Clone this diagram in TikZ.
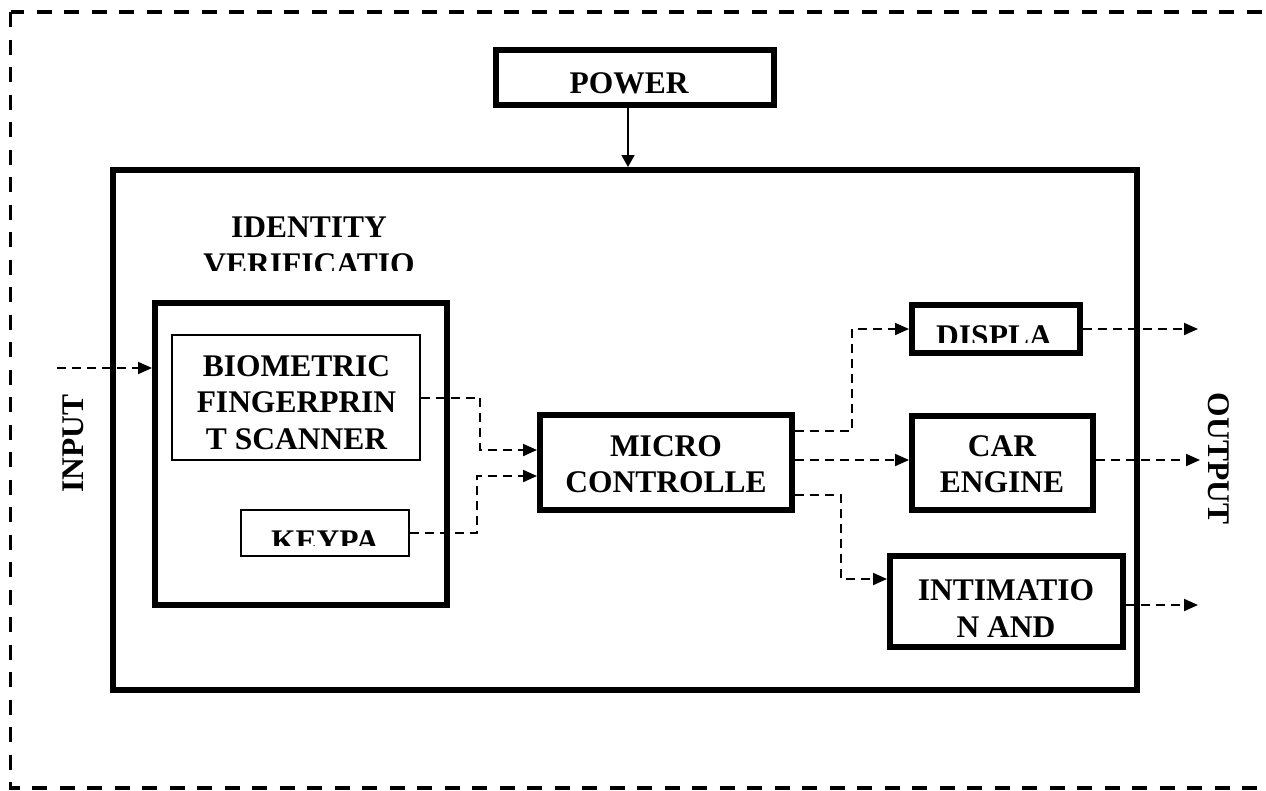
\documentclass[tikz,border=0pt]{standalone}
\usepackage{fontspec}
\setmainfont{Liberation Serif}
\usetikzlibrary{arrows.meta}
\tikzset{
  thick box/.style={draw, line width=6pt, inner sep=0pt, fill=white},
  thin box/.style={draw, line width=1.5pt, inner sep=0pt},
  label text/.style={font=\bfseries\fontsize{31.5}{36.5}\selectfont, inner sep=0pt, anchor=base, align=center},
  flow/.style={line width=2pt, dash pattern=on 9pt off 6pt, -{Triangle[length=14pt,width=12pt]}},
  power arrow/.style={line width=1.5pt, -{Triangle[length=12pt,width=13pt]}},
  frame/.style={line width=3.8pt, dash pattern=on 15pt off 12.5pt}
}
\begin{document}
\begin{tikzpicture}[x=1pt,y=-1pt]
\useasboundingbox (0,0) rectangle (1266,790);
\clip (0,0) rectangle (1266,790);
% outer dashed frame
\draw[frame] (10.5,12) rectangle (1290,788);

% boxes
\node[thick box, minimum width=278pt, minimum height=55pt] (power) at (635,77.5) {};
\node[thick box, minimum width=1024pt, minimum height=520pt] (main) at (625,430) {};
\node[thick box, minimum width=292pt, minimum height=302pt] (ident) at (301,454) {};
\node[thin box, minimum width=248pt, minimum height=125pt] (bio) at (296,397.5) {};
\node[thin box, minimum width=168pt, minimum height=46pt] (key) at (325,533) {};
\node[thick box, minimum width=252pt, minimum height=95pt] (micro) at (666,462.5) {};
\node[thick box, minimum width=168pt, minimum height=48pt] (disp) at (996,329) {};
\node[thick box, minimum width=181pt, minimum height=94pt] (car) at (1002.5,463) {};
\node[thick box, minimum width=233pt, minimum height=91pt] (intim) at (1006.5,601.5) {};

% texts (anchor = baseline of the last line)
\node[label text] (tpower) at (629,93) {POWER};
\begin{scope}
  \clip (150,190) rectangle (470,270);
  \node[label text] (tident) at (309,274) {IDENTITY\\VERIFICATIO};
\end{scope}
\node[label text] (tbio) at (296.5,449) {BIOMETRIC\\FINGERPRIN\\T SCANNER};
\begin{scope}
  \clip (243,512) rectangle (407,545);
  \node[label text] (tkey) at (325,551) {KEYPA};
\end{scope}
\node[label text] (tmicro) at (666,492.5) {MICRO\\CONTROLLE};
\begin{scope}
  \clip (916,308) rectangle (1076,342);
  \node[label text] (tdisp) at (994,346) {DISPLA};
\end{scope}
\node[label text] (tcar) at (1002,492.5) {CAR\\ENGINE};
\node[label text] (tintim) at (1006,637) {INTIMATIO\\N AND};
\node[label text, rotate=90] (tin) at (83,443.5) {INPUT};
\node[label text, rotate=-90] (tout) at (1208,458.5) {OUTPUT};

% power arrow
\coordinate (px) at (628,0);
\draw[power arrow] (power.south -| px) -- (main.north -| px);

% input
\coordinate (inp) at (57,368);
\draw[flow] (inp) -- (inp -| ident.west);

% identity -> micro
\coordinate (bj) at (480,450);
\draw[flow] (bio.east) -| (bj) -- (bj -| micro.west);
\coordinate (kj) at (477,476);
\draw[flow] (key.east) -| (kj) -- (kj -| micro.west);

% micro -> outputs
\coordinate (m1) at (0,431);
\coordinate (dj) at (852,329);
\draw[flow] (m1 -| micro.east) -| (dj) -- (disp.west);
\coordinate (m2) at (0,460);
\draw[flow] (m2 -| micro.east) -- (m2 -| car.west);
\coordinate (m3) at (0,495);
\coordinate (ij) at (841,579);
\draw[flow] (m3 -| micro.east) -| (ij) -- (ij -| intim.west);

% outputs out
\coordinate (o1) at (1198,329);
\draw[flow] (disp.east) -- (o1);
\coordinate (o2) at (1200,460);
\draw[flow] (o2 -| car.east) -- (o2);
\coordinate (o3) at (1198,605);
\draw[flow] (o3 -| intim.east) -- (o3);
\end{tikzpicture}
\end{document}
